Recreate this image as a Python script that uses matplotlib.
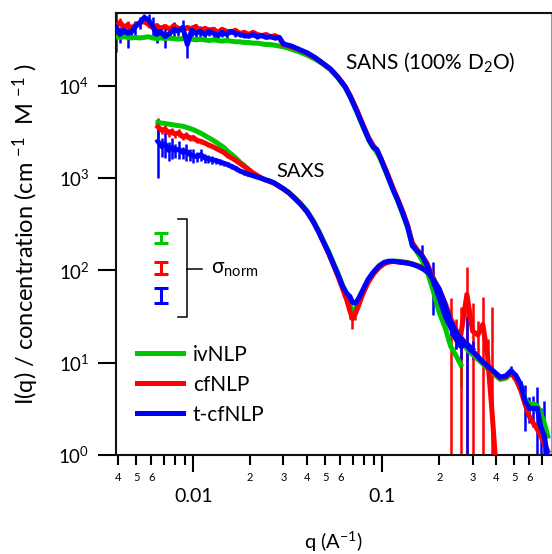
import numpy as np
import matplotlib
matplotlib.use('Agg')
import matplotlib.pyplot as plt
from matplotlib.ticker import FixedLocator, FixedFormatter, NullLocator

# ---------------- data ----------------
series_names = ['ivNLP', 'cfNLP', 't-cfNLP']
series_colors = ['#00C800', '#FF0000', '#0000FF']

q_sans = [0.0039, 0.0041, 0.0043, 0.0045, 0.0047, 0.0049, 0.0052, 0.0055, 0.0058, 0.0061,
          0.0064, 0.0067, 0.0071, 0.0075, 0.0079, 0.0083, 0.0088, 0.0093, 0.0098, 0.0103,
          0.0109, 0.0115, 0.0121, 0.0128, 0.0135, 0.0142, 0.015, 0.0158, 0.0167, 0.0176,
          0.0186, 0.0196, 0.0207, 0.0218, 0.023, 0.0243, 0.0256, 0.027, 0.0285, 0.03,
          0.033, 0.036, 0.04, 0.044, 0.048, 0.053, 0.058, 0.0635, 0.0677, 0.073,
          0.0794, 0.085, 0.0896, 0.0935, 0.0975, 0.105, 0.114, 0.12, 0.128, 0.136,
          0.144, 0.152, 0.162, 0.172, 0.185, 0.2, 0.215, 0.23, 0.245, 0.26,
          0.28, 0.3, 0.32, 0.34, 0.36, 0.38, 0.4]

sans_green = [34000, 33500, 34000, 33500, 33000, 33500, 33000, 33500, 34000, 33000,
              32500, 33000, 32500, 33000, 32500, 32000, 32500, 32000, 32000, 31500,
              32000, 31500, 31000, 31500, 31000, 30500, 31000, 30500, 30000, 30000,
              29500, 29500, 29000, 29000, 28500, 28000, 28000, 27500, 27000, 26500,
              25000, 23500, 21500, 19500, 17500, 15000, 12300, 9600, 7500, 5300,
              3500, 2550, 2150, 1900, 1620, 1130, 740, 580, 410, 290,
              190, 160, 130, 100, 62, 35, 24, 15, 12, 9.5]
sans_green_err = [0] * 69 + [4]

sans_red = [44000, 49000, 43000, 46000, 42000, 45000, 48000, 50000, 46000, 43000,
            45000, 42000, 44000, 41000, 45000, 42000, 40000, 43000, 41000, 44000,
            39000, 42000, 40000, 41000, 38000, 41000, 39000, 38000, 40000, 37000,
            38000, 36000, 38000, 36000, 35000, 36000, 34000, 35000, 33000, 28000,
            26500, 24800, 22500, 20200, 17800, 15300, 12600, 9900, 7800, 5600,
            3700, 2700, 2250, 2000, 1700, 1200, 780, 610, 440, 310,
            200, 170, 145, 120, 85, 55, 35, 25, 22, 20,
            55, 22, 20, 26, 12, 3, 0.7]
sans_red_err = [4000, 5000, 3000, 4000, 3000, 4000, 3500, 3000, 4000, 3000,
                3500, 2500, 3000, 2500, 3000, 2500, 2500, 3000, 2500, 2500,
                2000, 2500, 2000, 2000, 2000, 2000, 1800, 1800, 1800, 1500,
                1500, 1500, 1500, 1500, 1200, 1200, 1200, 1200, 1000] + [0] * 25 + \
               [10, 10, 12, 25, 8, 20, 54, 22, 8, 26, 6, 37, 0]

sans_blue = [43000, 36000, 40000, 37000, 38000, 43000, 48000, 55000, 52000, 44000,
             36000, 39000, 34000, 37000, 41000, 39000, 43000, 28000, 40000, 37000,
             39000, 36000, 39000, 37000, 35000, 38000, 36000, 39000, 37000, 36000,
             35000, 34500, 36000, 34000, 35000, 33500, 34000, 33000, 33500, 28500,
             27000, 25000, 22800, 20300, 17800, 15300, 12500, 9800, 7600, 5400,
             3600, 2600, 2150, 2050, 1680, 1150, 750, 590, 420, 300,
             185, 165, 145, 115, 78, 50, 32, 24, 18, 15,
             16, 14]
sans_blue_err = [20000, 7000, 6000, 11000, 4000, 8000, 7000, 5000, 8000, 11000,
                 7000, 6000, 8000, 5500, 8000, 4000, 8500, 8000, 6000, 4000,
                 6000, 3600, 4500, 3700, 2800, 3800, 2900, 2300, 3000, 2200,
                 1800, 1700, 2200, 1700, 1400, 1700, 1400, 1300, 1300] + [0] * 23 + \
                [45, 5, 45, 12, 3, 4, 4, 4, 15, 3]

q_saxs = [0.0065, 0.0068, 0.0071, 0.0074, 0.0077, 0.008, 0.0084, 0.0088, 0.0092, 0.0096,
          0.01, 0.0105, 0.011, 0.0115, 0.012, 0.0126, 0.0132, 0.0138, 0.0145, 0.0152,
          0.016, 0.0168, 0.0176, 0.0185, 0.0195, 0.0205, 0.0216, 0.0228, 0.024, 0.0253,
          0.0267, 0.0282, 0.03, 0.032, 0.0345, 0.037, 0.04, 0.043, 0.046, 0.049,
          0.052, 0.055, 0.058, 0.0615, 0.065, 0.0675, 0.0695, 0.072, 0.075, 0.079,
          0.084, 0.09, 0.096, 0.102, 0.108, 0.114, 0.12, 0.128, 0.136, 0.145,
          0.155, 0.165, 0.175, 0.187, 0.2, 0.215, 0.23, 0.25, 0.27, 0.29,
          0.31, 0.335, 0.36, 0.39, 0.42, 0.45, 0.48, 0.51, 0.54, 0.57,
          0.6, 0.63, 0.66, 0.69, 0.72, 0.75]

saxs_green = [4000, 3950, 3900, 3850, 3800, 3750, 3700, 3650, 3550, 3450,
              3350, 3200, 3050, 2900, 2750, 2600, 2450, 2300, 2150, 1950,
              1800, 1650, 1500, 1380, 1250, 1150, 1070, 1000, 960, 930,
              890, 830, 770, 700, 610, 530, 440, 350, 270, 205,
              160, 122, 95, 70, 52, 42, 36, 38, 45, 58,
              76, 93, 108, 118, 124, 126, 126, 124, 122, 117,
              112, 104, 92, 74, 52, 36, 25, 19, 15.5, 13,
              11.5, 10, 8.6, 7.5, 6.6, 6.8, 7.6, 6.9, 5.6, 4.0,
              3.5, 3.6, 3.4, 2.8, 2.2, 1.6]

saxs_red = [3600, 3300, 3400, 3100, 3200, 3000, 3100, 2800, 2900, 2700,
            2750, 2550, 2500, 2400, 2300, 2200, 2100, 2000, 1900, 1750,
            1650, 1550, 1450, 1350, 1250, 1150, 1080, 1010, 960, 920,
            880, 820, 760, 690, 600, 520, 430, 340, 262, 198,
            152, 115, 88, 64, 47, 36, 30, 34, 42, 56,
            74, 92, 107, 118, 123, 125, 124, 122, 120, 117,
            112, 105, 96, 80, 62, 44, 30, 21, 17, 14,
            12.5, 10.5, 9, 7.8, 6.8, 7, 7.8, 6.5, 5.0, 3.5,
            2.6, 2.2, 1.9, 1.6, 1.3, 1.1]
saxs_red_err = [900, 300, 400, 300, 300, 250, 300, 200, 250, 200,
                200, 150, 150, 120, 120, 100, 100, 90, 90, 80] + [0] * 25 + \
               [6, 7, 5] + [0] * 38

saxs_blue = [2500, 2200, 2350, 2000, 2150, 2000, 2050, 1900, 1950, 1800,
             1750, 1700, 1800, 1650, 1620, 1580, 1550, 1500, 1450, 1400,
             1330, 1270, 1200, 1150, 1100, 1070, 1030, 1000, 960, 930,
             890, 830, 765, 695, 600, 520, 430, 340, 262, 200,
             155, 118, 92, 68, 56, 52, 45, 44, 50, 62,
             80, 97, 112, 122, 126, 126, 124, 122, 120, 116,
             110, 103, 95, 78, 63, 42, 28, 20, 17, 14,
             12.5, 10.5, 9.2, 8.0, 7.0, 7.2, 8.2, 7.2, 5.8, 3.8,
             3.2, 3.2, 3.2, 2.0, 1.6, 0.9]
saxs_blue_err = [1500, 500, 700, 450, 550, 350, 450, 300, 400, 250,
                 300, 200, 280, 180, 150, 150, 120, 120, 100, 90,
                 80, 70, 60, 60, 50] + [0] * 51 + \
                [1.0, 0.5, 0.6, 2.0, 1.0, 1.2, 2.2, 1.2, 2.2, 0]

x_major_ticks = [0.01, 0.1]
x_major_labels = ['0.01', '0.1']
x_minor_ticks = [0.004, 0.005, 0.006, 0.007, 0.008, 0.009,
                 0.02, 0.03, 0.04, 0.05, 0.06, 0.07, 0.08, 0.09,
                 0.2, 0.3, 0.4, 0.5, 0.6, 0.7]
x_minor_labels = ['4', '5', '6', '', '', '',
                  '2', '3', '4', '5', '6', '', '', '',
                  '2', '3', '4', '5', '6', '']
y_ticks = [1, 10, 100, 1000, 10000]
y_labels = ['$10^{0}$', '$10^{1}$', '$10^{2}$', '$10^{3}$', '$10^{4}$']

# ---------------- style ----------------
plt.rcParams['font.family'] = ['Lato', 'DejaVu Sans']
plt.rcParams['mathtext.fontset'] = 'custom'
plt.rcParams['mathtext.rm'] = 'Lato'
plt.rcParams['mathtext.default'] = 'regular'

fig = plt.figure(figsize=(5.52, 5.54), dpi=100)
ax = fig.add_axes([0.2101, 0.1787, 0.7881, 0.7978])
ax.set_xscale('log')
ax.set_yscale('log')


def draw(q, I, err, color):
    q = np.asarray(q[:len(I)], float)
    I = np.asarray(I, float)
    if err is not None:
        e = np.asarray(err, float)
        lo = np.minimum(e, I * 0.995)
        m = e > 0
        ax.errorbar(q[m], I[m], yerr=[lo[m], e[m]], fmt='none', ecolor=color,
                    elinewidth=1.8, capsize=0, zorder=2)
    line, = ax.plot(q, I, color=color, lw=3.6, solid_joinstyle='round', zorder=3)
    return line


handles = []
sets = [
    (sans_green, sans_green_err, saxs_green, None),
    (sans_red, sans_red_err, saxs_red, saxs_red_err),
    (sans_blue, sans_blue_err, saxs_blue, saxs_blue_err),
]
for (sI, sE, xI, xE), c in zip(sets, series_colors):
    draw(q_sans, sI, sE, c)
    h = draw(q_saxs, xI, xE, c)
    handles.append(h)

ax.set_xlim(0.0039, 0.78)
ax.set_ylim(1, 6.15e4)

ax.xaxis.set_major_locator(FixedLocator(x_major_ticks))
ax.xaxis.set_major_formatter(FixedFormatter(x_major_labels))
ax.xaxis.set_minor_locator(FixedLocator(x_minor_ticks))
ax.xaxis.set_minor_formatter(FixedFormatter(x_minor_labels))
ax.yaxis.set_major_locator(FixedLocator(y_ticks))
ax.yaxis.set_major_formatter(FixedFormatter(y_labels))
ax.yaxis.set_minor_locator(NullLocator())

ax.tick_params(axis='x', which='major', direction='out', length=12, width=1.5,
               pad=12, labelsize=14)
ax.tick_params(axis='x', which='minor', direction='out', length=7, width=1.5,
               pad=5, labelsize=8)
ax.tick_params(axis='y', which='major', direction='out', length=13, width=1.5,
               pad=6, labelsize=13.5)

for s in ['left', 'bottom', 'top']:
    ax.spines[s].set_linewidth(1.5)
    ax.spines[s].set_color('#111111')
ax.spines['right'].set_linewidth(0.8)
ax.spines['right'].set_color('#999999')

ax.set_xlabel('q (A$^{-1}$)', fontsize=14.5)
ax.xaxis.set_label_coords(0.5, -0.17)
ax.set_ylabel('I(q) / concentration (cm $^{-1}$  M $^{-1}$ )', fontsize=17)
ax.yaxis.set_label_coords(-0.172, 0.5)

ax.text(0.5264, 0.889, 'SANS (100% D$_2$O)', transform=ax.transAxes,
        fontsize=15, va='center', ha='left')
ax.text(0.3678, 0.6425, 'SAXS', transform=ax.transAxes,
        fontsize=14.5, va='center', ha='left')

# sigma_norm key
sig_y = [0.491, 0.423, 0.360]
sig_h = [0.0124, 0.0136, 0.017]
for y, h, c in zip(sig_y, sig_h, series_colors):
    ax.errorbar([0.1034], [y], yerr=[[h], [h]], fmt='none', ecolor=c,
                elinewidth=2.2, capsize=5, capthick=2.2, transform=ax.transAxes)
ax.plot([0.1425, 0.1632, 0.1632, 0.1425], [0.534, 0.534, 0.3122, 0.3122],
        color='black', lw=1.1, transform=ax.transAxes, clip_on=False)
ax.plot([0.1632, 0.1977], [0.4208, 0.4208], color='black', lw=1.1,
        transform=ax.transAxes)
ax.text(0.2184, 0.421, 'σ$_{norm}$', transform=ax.transAxes, fontsize=15,
        va='center', ha='left')

leg = ax.legend(handles=handles, labels=series_names, loc='upper left',
                bbox_to_anchor=(0.048, 0.25), frameon=False, fontsize=15,
                handlelength=2.2, handletextpad=0.48, labelspacing=0.48,
                borderpad=0, borderaxespad=0)

fig.savefig('out.png', dpi=100)
